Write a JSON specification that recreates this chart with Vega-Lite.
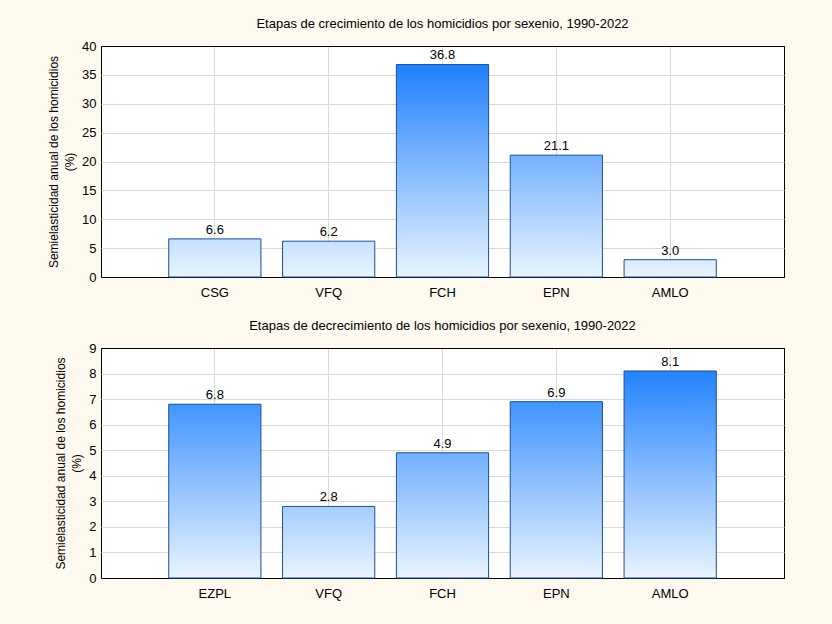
{
  "$schema": "https://vega.github.io/schema/vega-lite/v6.json",
  "background": "#fdf9ef",
  "padding": {"left": 47, "top": 17, "right": 49, "bottom": 23},
  "spacing": 19,
  "config": {
    "font": "Liberation Sans",
    "view": {"stroke": "black", "strokeWidth": 1, "fill": "white"},
    "axis": {
      "labelFont": "Liberation Sans",
      "labelFontSize": 13,
      "labelColor": "black",
      "titleFont": "Liberation Sans",
      "titleFontSize": 12,
      "titleFontWeight": "normal",
      "titleColor": "black",
      "titleLineHeight": 16,
      "gridColor": "#d9d9d9",
      "domain": false,
      "tickColor": "#333333"
    },
    "title": {"font": "Liberation Sans", "fontSize": 13, "fontWeight": "normal", "color": "black", "offset": 9}
  },
  "vconcat": [
    {
      "title": "Etapas de crecimiento de los homicidios por sexenio, 1990-2022",
      "width": 683,
      "height": 231,
      "data": {"values": [
        {"sexenio": "CSG", "valor": 6.6},
        {"sexenio": "VFQ", "valor": 6.2},
        {"sexenio": "FCH", "valor": 36.8},
        {"sexenio": "EPN", "valor": 21.1},
        {"sexenio": "AMLO", "valor": 3.0}
      ]},
      "encoding": {
        "x": {
          "field": "sexenio", "type": "nominal", "sort": null,
          "scale": {"paddingInner": 0.19, "paddingOuter": 0.595},
          "axis": {"title": null, "labelAngle": 0, "bandPosition": 0.5, "grid": true, "tickSize": -4, "labelPadding": 13}
        },
        "y": {
          "field": "valor", "type": "quantitative",
          "scale": {"domain": [0, 40], "nice": false},
          "axis": {
            "values": [0, 5, 10, 15, 20, 25, 30, 35, 40],
            "title": ["Semielasticidad anual de los homicidios", "(%)"],
            "ticks": false, "labelPadding": 5, "titlePadding": 5,
            "gridColor": {"condition": {"test": "datum.value == 0 || datum.value == 40", "value": "black"}, "value": "#d9d9d9"}
          }
        }
      },
      "layer": [
        {
          "mark": {"type": "bar", "stroke": "#1d4f91", "strokeWidth": 1},
          "encoding": {
            "fill": {"value": {"expr": "{gradient: 'linear', x1: 0, y1: 1 - 40 / datum.valor, x2: 0, y2: 1, stops: [{offset: 0, color: '#0e76ff'}, {offset: 1, color: '#e9f4ff'}]}"}}
          }
        },
        {
          "mark": {"type": "text", "baseline": "bottom", "dy": -2, "fontSize": 13, "color": "black"},
          "encoding": {"text": {"field": "valor", "type": "quantitative", "format": ".1f"}}
        }
      ]
    },
    {
      "title": "Etapas de decrecimiento de los homicidios por sexenio, 1990-2022",
      "width": 683,
      "height": 230,
      "data": {"values": [
        {"sexenio": "EZPL", "valor": 6.8},
        {"sexenio": "VFQ", "valor": 2.8},
        {"sexenio": "FCH", "valor": 4.9},
        {"sexenio": "EPN", "valor": 6.9},
        {"sexenio": "AMLO", "valor": 8.1}
      ]},
      "encoding": {
        "x": {
          "field": "sexenio", "type": "nominal", "sort": null,
          "scale": {"paddingInner": 0.19, "paddingOuter": 0.595},
          "axis": {"title": null, "labelAngle": 0, "bandPosition": 0.5, "grid": true, "tickSize": -4, "labelPadding": 13}
        },
        "y": {
          "field": "valor", "type": "quantitative",
          "scale": {"domain": [0, 9], "nice": false},
          "axis": {
            "values": [0, 1, 2, 3, 4, 5, 6, 7, 8, 9],
            "title": ["Semielasticidad anual de los homicidios", "(%)"],
            "ticks": false, "labelPadding": 5, "titlePadding": 5,
            "gridColor": {"condition": {"test": "datum.value == 0 || datum.value == 9", "value": "black"}, "value": "#d9d9d9"}
          }
        }
      },
      "layer": [
        {
          "mark": {"type": "bar", "stroke": "#1d4f91", "strokeWidth": 1},
          "encoding": {
            "fill": {"value": {"expr": "{gradient: 'linear', x1: 0, y1: 1 - 9 / datum.valor, x2: 0, y2: 1, stops: [{offset: 0, color: '#0e76ff'}, {offset: 1, color: '#e9f4ff'}]}"}}
          }
        },
        {
          "mark": {"type": "text", "baseline": "bottom", "dy": -2, "fontSize": 13, "color": "black"},
          "encoding": {"text": {"field": "valor", "type": "quantitative", "format": ".1f"}}
        }
      ]
    }
  ]
}
